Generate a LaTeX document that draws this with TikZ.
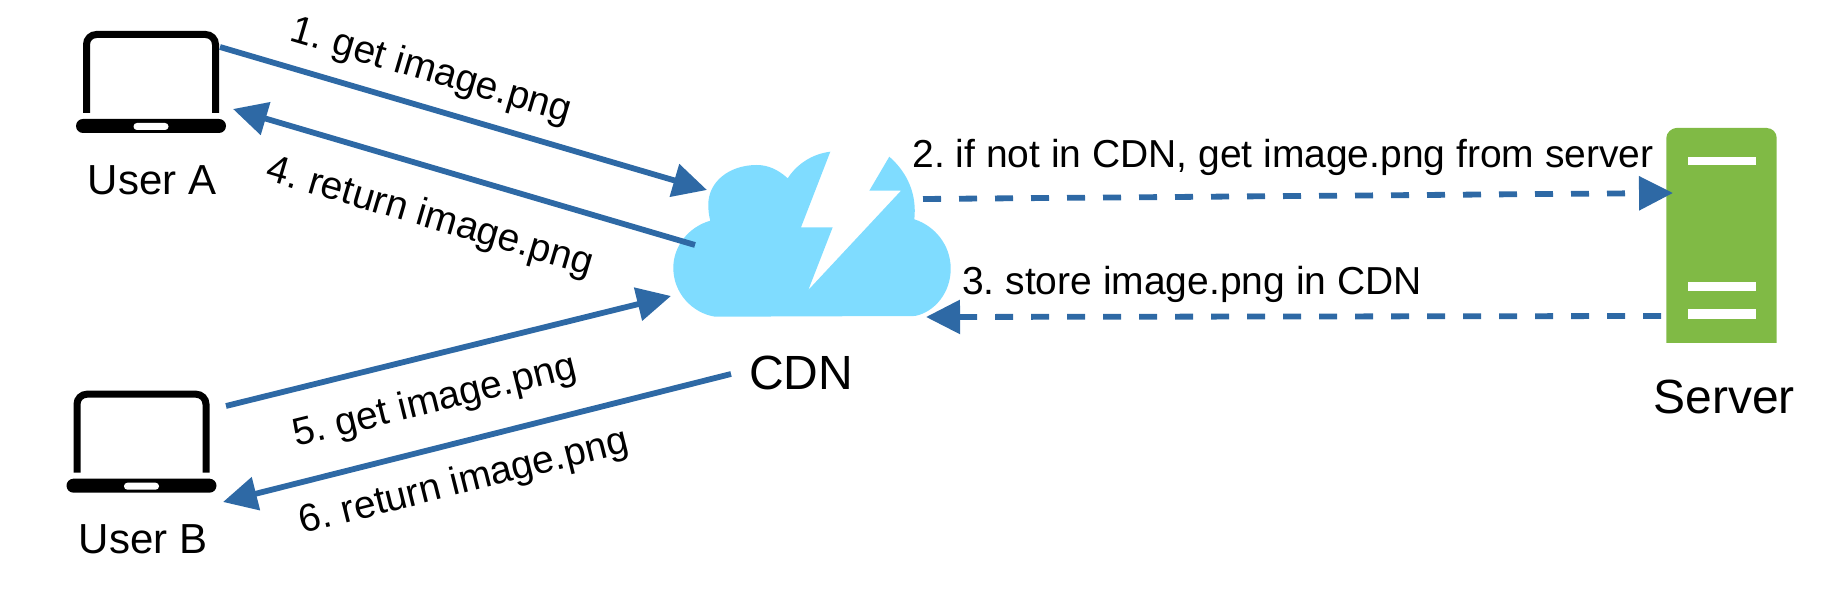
\documentclass[tikz,border=0pt]{standalone}
\usepackage{fontspec}
\setmainfont{Liberation Sans}
\frenchspacing
\usetikzlibrary{arrows.meta}
\definecolor{arrowblue}{HTML}{2E69A5}
\definecolor{cloudblue}{HTML}{7FDCFF}
\definecolor{servergreen}{HTML}{80BA45}
\tikzset{
    flow/.style={arrowblue,line width=2.9pt,-{Triangle[length=17pt,width=16.5pt]}},
    flowdash/.style={flow,dash pattern=on 9pt off 9pt},
    step label/.style={font=\fontsize{19.5}{23}\selectfont,inner sep=0pt},
    name label/.style={font=\fontsize{21}{25}\selectfont,inner sep=0pt},
    big label/.style={font=\fontsize{24}{28}\selectfont,inner sep=0pt},
    server bar/.style={fill=white},
    laptop/.pic={
        \draw[black,line width=3.5pt,rounded corners=5pt] (-64.5,41) -- (-64.5,-37.5) -- (64.5,-37.5) -- (64.5,41);
        \fill[black,rounded corners=3.5pt] (-75,47) rectangle (75,61);
        \fill[white,rounded corners=1.7pt] (-17.5,51) rectangle (17.5,58);
    }
}
\begin{document}
\begin{tikzpicture}[x=0.5pt,y=-0.5pt]
    \useasboundingbox (0,0) rectangle (1845,597);
    % laptops
    \pic at (151,72) {laptop};
    \pic at (141.5,431.7) {laptop};
    % cloud with the bolt cut out
    \fill[cloudblue] (715,316.7) -- (915,316)
        .. controls (935,312) and (951,292) .. (950.7,268.3)
        .. controls (950.5,245) and (935,226) .. (914.3,219.3)
        .. controls (917,195) and (908,173) .. (889.3,156.7)
        -- (869.3,190.7) -- (901,190.7) -- (808.3,290) -- (832.7,227.3) -- (801,227.3) -- (830.3,151.7)
        .. controls (812,154) and (797,164) .. (787.7,178.3)
        .. controls (778,169.5) and (768,165) .. (756.7,165)
        .. controls (729,165) and (708,182) .. (708.3,205)
        .. controls (708.3,211) and (709,216) .. (710.3,220.7)
        .. controls (688,227) and (673,247) .. (673.3,268.3)
        .. controls (673.5,293) and (692,313) .. (715,316.7) -- cycle;
    % server
    \fill[servergreen] (1666.3,343) -- (1666.3,138) .. controls (1666.3,132.5) and (1671.8,128) .. (1676.3,128)
        -- (1766.7,128) .. controls (1772.2,128) and (1776.7,132.5) .. (1776.7,138) -- (1776.7,343) -- cycle;
    \fill[server bar] (1688,156.7) rectangle (1755.7,165.3);
    \fill[server bar] (1688,282.3) rectangle (1755.7,291.3);
    \fill[server bar] (1688,309.3) rectangle (1755.7,318.7);
    % names
    \node[name label] (usera) at (152,180) {User A};
    \node[name label] (userb) at (143,539) {User B};
    \node[big label] (cdn) at (801,373) {CDN};
    \node[big label] (server) at (1724,397) {Server};
    % connector ends
    \coordinate (a out) at (220,47);
    \coordinate (a in) at (233,109);
    \coordinate (b out) at (226,406);
    \coordinate (b in) at (223,502);
    \coordinate (cdn in a) at (707,190);
    \coordinate (cdn out a) at (695,245);
    \coordinate (cdn in b) at (671,296);
    \coordinate (cdn out b) at (731,374);
    \coordinate (cdn out s) at (923,199);
    \coordinate (cdn in s) at (926,317);
    \coordinate (server in) at (1673,193);
    \coordinate (server out) at (1661,316);
    \draw[flow] (a out) -- (cdn in a);
    \draw[flow] (cdn out a) -- (a in);
    \draw[flow] (b out) -- (cdn in b);
    \draw[flow] (cdn out b) -- (b in);
    \draw[flowdash] (cdn out s) -- (server in);
    \draw[flowdash] (server out) -- (cdn in s);
    % step texts
    \node[step label,rotate=-16.4] (get a) at (431,72) {1. get image.png};
    \node[step label] (ask) at (1283,157) {2. if not in CDN, get image.png from server};
    \node[step label] (store) at (1192,284) {3. store image.png in CDN};
    \node[step label,rotate=-16.4] (ret a) at (430,218) {4. return image.png};
    \node[step label,rotate=13.9] (get b) at (435,402) {5. get image.png};
    \node[step label,rotate=14.1] (ret b) at (464,483) {6. return image.png};
\end{tikzpicture}
\end{document}
